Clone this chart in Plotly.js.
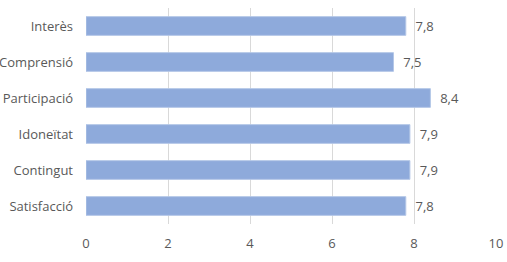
<!DOCTYPE html>
<html>
<head>
<meta charset="utf-8">
<script src="https://cdn.plot.ly/plotly-3.0.1.min.js"></script>
<style>html,body{margin:0;padding:0;background:#fff;}#chart{width:507px;height:262px;}</style>
</head>
<body>
<div id="chart"></div>
<script>
const categories = ["Satisfacció", "Contingut", "Idoneïtat", "Participació", "Comprensió", "Interès"];
const values = [7.8, 7.9, 7.9, 8.4, 7.5, 7.8];
const xTicks = [0, 2, 4, 6, 8, 10];

const trace = {
  type: 'bar',
  orientation: 'h',
  x: values,
  y: categories,
  marker: {color: '#8eaadb', line: {color: '#b4c7e7', width: 1}},
  texttemplate: '\u00a0\u00a0%{x:.1f}',
  textposition: 'outside',
  cliponaxis: false,
  textfont: {family: 'Open Sans, Liberation Sans, sans-serif', size: 13, color: '#595959'},
  hoverinfo: 'none'
};

const layout = {
  width: 507, height: 262,
  margin: {l: 86, r: 11, t: 8, b: 38},
  paper_bgcolor: '#fff', plot_bgcolor: '#fff',
  separators: ',.',
  showlegend: false,
  bargap: 0.48,
  font: {family: 'Open Sans, Liberation Sans, sans-serif', size: 13, color: '#595959'},
  xaxis: {
    range: [0, 10], tickvals: xTicks, ticktext: xTicks.map(String),
    showgrid: true, gridcolor: '#d9d9d9', gridwidth: 1,
    zeroline: false, showline: false, ticks: '', ticklen: 0,
    ticklabelstandoff: 10,
    tickfont: {size: 13, color: '#595959'}
  },
  yaxis: {
    type: 'category', categoryorder: 'array', categoryarray: categories,
    showgrid: false, zeroline: false, showline: false, ticks: '',
    ticklabelstandoff: 12,
    tickfont: {size: 13, color: '#595959'}
  }
};

Plotly.newPlot('chart', [trace], layout, {displayModeBar: false, staticPlot: true});
</script>
</body>
</html>
